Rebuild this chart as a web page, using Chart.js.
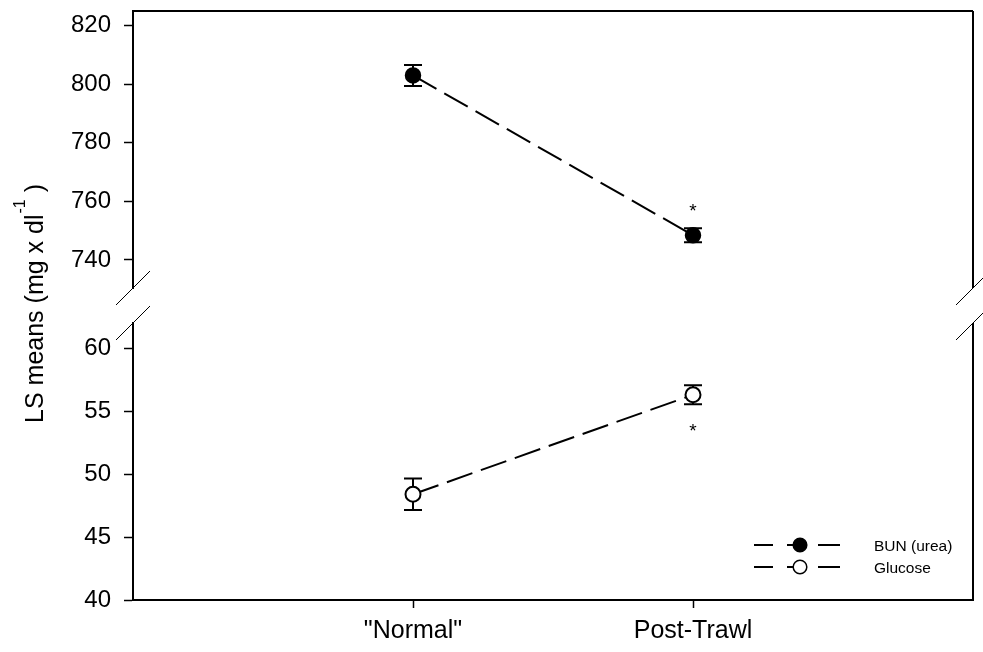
<!DOCTYPE html>
<html>
<head>
<meta charset="utf-8">
<script src="https://cdn.jsdelivr.net/npm/chart.js@4.4.1/dist/chart.umd.min.js"></script>
<style>
  html, body { margin: 0; padding: 0; background: #fff; }
</style>
</head>
<body>
<canvas id="lsChart" width="983" height="652"></canvas>
<script>
// groups on the x axis (placed at 1 and 2 on a 0..3 linear scale)
const groups = ['"Normal"', 'Post-Trawl'];
const groupPos = [1, 2];

// LS means and standard errors
const bunMean = [803.0, 748.4];
const bunSE = [3.6, 2.4];
const gluMean = [48.4, 56.3];
const gluSE = [1.25, 0.75];

// significance marks (value where the * sits, null = none)
const bunStar = [null, 758.5];
const gluStar = [null, 53.8];

// tick labels for the two pieces of the broken y axis
const upperTicks = [740, 760, 780, 800, 820];
const lowerTicks = [40, 45, 50, 55, 60];

const FONT = 'Liberation Sans, Arial, Helvetica, sans-serif';

// error bars behind the markers
const errorBars = {
  id: 'errorBars',
  beforeDatasetsDraw(chart) {
    const ctx = chart.ctx;
    ctx.save();
    ctx.strokeStyle = '#000';
    ctx.lineWidth = 2;
    chart.data.datasets.forEach((ds, di) => {
      const ys = chart.scales[ds.yAxisID];
      const meta = chart.getDatasetMeta(di);
      ds.data.forEach((p, i) => {
        const x = meta.data[i].x;
        const top = ys.getPixelForValue(p.y + ds.errors[i]);
        const bot = ys.getPixelForValue(p.y - ds.errors[i]);
        ctx.beginPath();
        ctx.moveTo(x, top); ctx.lineTo(x, bot);
        ctx.moveTo(x - 9, top); ctx.lineTo(x + 9, top);
        ctx.moveTo(x - 9, bot); ctx.lineTo(x + 9, bot);
        ctx.stroke();
      });
    });
    ctx.restore();
  }
};

// frame, axis breaks, asterisks, legend and the y title
const extras = {
  id: 'extras',
  afterDraw(chart) {
    const ctx = chart.ctx;
    const area = chart.chartArea;
    const up = chart.scales.yTop;
    const lo = chart.scales.yBot;
    ctx.save();

    // top and right frame lines
    ctx.strokeStyle = '#000';
    ctx.lineWidth = 2;
    ctx.beginPath();
    ctx.moveTo(area.left, area.top); ctx.lineTo(area.right, area.top);
    ctx.moveTo(area.right, up.top); ctx.lineTo(area.right, up.bottom);
    ctx.moveTo(area.right, lo.top); ctx.lineTo(area.right, lo.bottom);
    ctx.stroke();

    // break marks on both sides
    ctx.lineWidth = 1;
    [area.left, area.right].forEach(x => {
      [up.bottom, lo.top].forEach(y => {
        ctx.beginPath();
        ctx.moveTo(x - 17, y + 17);
        ctx.lineTo(x + 17, y - 17);
        ctx.stroke();
      });
    });

    // asterisks
    ctx.fillStyle = '#000';
    ctx.font = '19px ' + FONT;
    ctx.textAlign = 'center';
    ctx.textBaseline = 'alphabetic';
    chart.data.datasets.forEach((ds, di) => {
      const ys = chart.scales[ds.yAxisID];
      const meta = chart.getDatasetMeta(di);
      ds.stars.forEach((v, i) => {
        if (v === null) return;
        ctx.fillText('*', meta.data[i].x, ys.getPixelForValue(v) + 11);
      });
    });

    // legend
    const lx = area.right - 219;
    const rows = [area.bottom - 55, area.bottom - 33];
    chart.data.datasets.forEach((ds, di) => {
      const y = rows[di];
      ctx.strokeStyle = '#000';
      ctx.lineWidth = 2;
      ctx.beginPath();
      ctx.moveTo(lx, y); ctx.lineTo(lx + 19, y);
      ctx.moveTo(lx + 33, y); ctx.lineTo(lx + 46, y);
      ctx.moveTo(lx + 64, y); ctx.lineTo(lx + 86, y);
      ctx.stroke();
      ctx.beginPath();
      ctx.arc(lx + 46, y, 6.8, 0, Math.PI * 2);
      ctx.fillStyle = ds.pointBackgroundColor;
      ctx.fill();
      ctx.lineWidth = 1.5;
      ctx.stroke();
      ctx.fillStyle = '#000';
      ctx.font = '15.5px ' + FONT;
      ctx.textAlign = 'left';
      ctx.fillText(ds.label, lx + 120, y + 5.5);
    });

    // y axis title with superscript
    const main = 'LS means (mg x dl';
    const sup = '-1';
    const tail = ' )';
    ctx.font = '25px ' + FONT;
    const w1 = ctx.measureText(main).width;
    const w3 = ctx.measureText(tail).width;
    ctx.font = '16px ' + FONT;
    const w2 = ctx.measureText(sup).width;
    const total = w1 + w2 + w3;
    ctx.translate(43, 304);
    ctx.rotate(-Math.PI / 2);
    ctx.textAlign = 'left';
    const x0 = -total / 2;
    ctx.font = '25px ' + FONT;
    ctx.fillText(main, x0, 0);
    ctx.font = '16px ' + FONT;
    ctx.fillText(sup, x0 + w1 + 1, -18);
    ctx.font = '25px ' + FONT;
    ctx.fillText(tail, x0 + w1 + w2 + 1, 0);

    ctx.restore();
  }
};

const tickGrid = len => ({
  display: true,
  drawOnChartArea: false,
  drawTicks: true,
  tickLength: len,
  tickColor: '#000',
  tickWidth: 1.5
});

// fixed axis sizes, no extra room for overhanging labels
const fitY = s => { s.width = 133; s.paddingTop = 0; s.paddingBottom = 0; };
const fitX = s => { s.height = 52; s.paddingLeft = 0; s.paddingRight = 0; };

new Chart(document.getElementById('lsChart'), {
  type: 'line',
  data: {
    datasets: [
      {
        label: 'BUN (urea)',
        yAxisID: 'yTop',
        data: groupPos.map((x, i) => ({ x: x, y: bunMean[i] })),
        errors: bunSE,
        stars: bunStar,
        borderColor: '#000',
        borderWidth: 2,
        borderDash: [27, 9],
        pointRadius: 7.5,
        pointBackgroundColor: '#000',
        pointBorderColor: '#000',
        pointBorderWidth: 1.5
      },
      {
        label: 'Glucose',
        yAxisID: 'yBot',
        data: groupPos.map((x, i) => ({ x: x, y: gluMean[i] })),
        errors: gluSE,
        stars: gluStar,
        borderColor: '#000',
        borderWidth: 2,
        borderDash: [27, 9],
        pointRadius: 7.5,
        pointBackgroundColor: '#fff',
        pointBorderColor: '#000',
        pointBorderWidth: 2
      }
    ]
  },
  options: {
    responsive: false,
    animation: false,
    events: [],
    layout: { padding: { top: 11, right: 10, left: 0, bottom: 0 } },
    plugins: {
      legend: { display: false },
      tooltip: { enabled: false }
    },
    scales: {
      x: {
        type: 'linear',
        position: 'bottom',
        min: 0,
        max: 3,
        afterBuildTicks: s => { s.ticks = groupPos.map(v => ({ value: v })); },
        ticks: {
          callback: (v, i) => groups[i],
          font: { family: FONT, size: 25 },
          color: '#000',
          padding: 8,
          maxRotation: 0,
          autoSkip: false
        },
        grid: tickGrid(8),
        border: { display: true, color: '#000', width: 2 },
        afterFit: fitX
      },
      yTop: {
        type: 'linear',
        position: 'left',
        stack: 'ls',
        stackWeight: 277,
        weight: 3,
        min: 730.4,
        max: 825,
        afterBuildTicks: s => { s.ticks = upperTicks.map(v => ({ value: v })); },
        ticks: { font: { family: FONT, size: 24 }, color: '#000', padding: 13 },
        grid: tickGrid(9),
        border: { display: true, color: '#000', width: 2 },
        afterFit: fitY
      },
      yGap: {
        type: 'linear',
        position: 'left',
        stack: 'ls',
        stackWeight: 35,
        weight: 2,
        ticks: { display: false },
        grid: { display: false },
        border: { display: false },
        afterFit: fitY
      },
      yBot: {
        type: 'linear',
        position: 'left',
        stack: 'ls',
        stackWeight: 277,
        weight: 1,
        min: 40,
        max: 62,
        afterBuildTicks: s => { s.ticks = lowerTicks.map(v => ({ value: v })); },
        ticks: { font: { family: FONT, size: 24 }, color: '#000', padding: 13 },
        grid: tickGrid(9),
        border: { display: true, color: '#000', width: 2 },
        afterFit: fitY
      }
    }
  },
  plugins: [errorBars, extras]
});
</script>
</body>
</html>
